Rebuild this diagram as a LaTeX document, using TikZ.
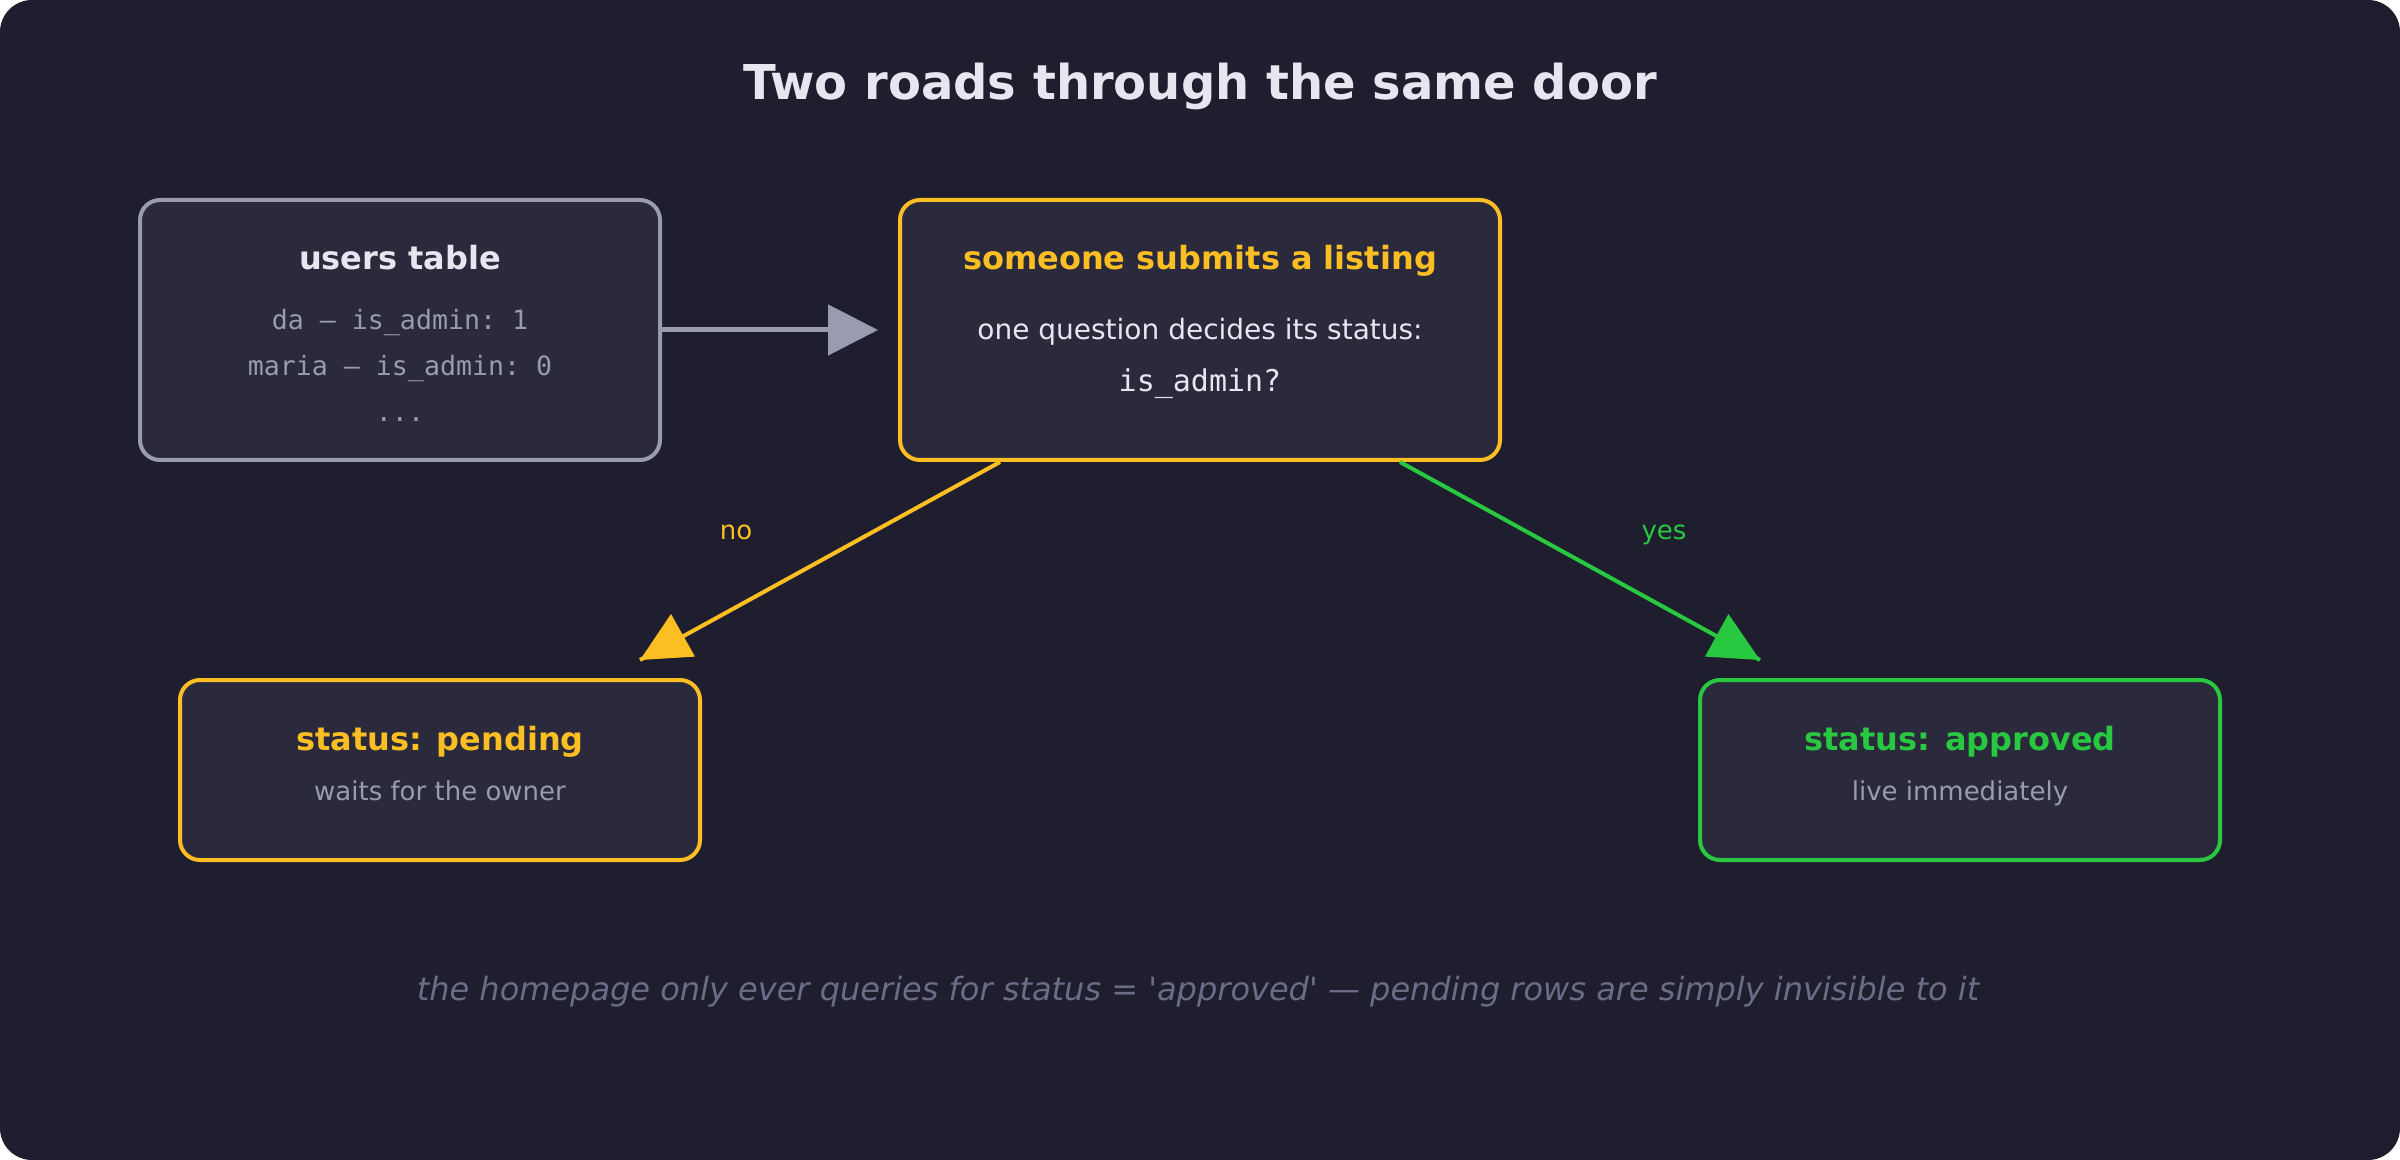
\documentclass[tikz,border=0pt]{standalone}
\usepackage{fontspec}
\setmainfont{DejaVu Sans}
\setmonofont{DejaVu Sans Mono}
\usetikzlibrary{arrows.meta}

\definecolor{bgdark}{HTML}{1E1E2E}
\definecolor{cardfill}{HTML}{2A2A3C}
\definecolor{mutedgray}{HTML}{9A9AB0}
\definecolor{softwhite}{HTML}{E6E6F0}
\definecolor{amber}{HTML}{FBBF24}
\definecolor{okgreen}{HTML}{28C840}
\definecolor{notegray}{HTML}{6C6C88}

\begin{document}
\begin{tikzpicture}[x=1pt,y=-1pt,
		card/.style={draw, line width=2pt, fill=cardfill, rounded corners=10pt, inner sep=0pt},
		headtxt/.style={font=\fontsize{16}{19}\selectfont\bfseries, anchor=base, inner sep=0pt},
		bodytxt/.style={font=\fontsize{14}{17}\selectfont, anchor=base, inner sep=0pt},
		codetxt/.style={font=\fontsize{13.3}{16}\selectfont\ttfamily, anchor=base, inner sep=0pt},
		subtxt/.style={font=\fontsize{13}{15}\selectfont, text=mutedgray, anchor=base, inner sep=0pt}]
			\useasboundingbox (0,0) rectangle (1200,580);
			\fill[white] (0,0) rectangle (1200,580);
			\fill[bgdark, rounded corners=16pt] (0,0) rectangle (1200,580);

			% title
			\node[font=\fontsize{24}{28}\selectfont\bfseries, text=softwhite, anchor=base, inner sep=0pt] (title) at (600,50) {Two roads through the same door};

			% boxes
			\node[card, draw=mutedgray, minimum width=260pt, minimum height=130pt] (users) at (200,165) {};
			\node[card, draw=amber, minimum width=300pt, minimum height=130pt] (ask) at (600,165) {};
			\node[card, draw=amber, minimum width=260pt, minimum height=90pt] (pending) at (220,385) {};
			\node[card, draw=okgreen, minimum width=260pt, minimum height=90pt] (approved) at (980,385) {};

			% box texts
			\node[headtxt, text=softwhite] (usersHead) at (200,135) {users table};
			\node[codetxt, text=mutedgray] (rowDa) at (200,165) {da — is\_admin: 1};
			\node[codetxt, text=mutedgray] (rowMaria) at (200,188) {maria — is\_admin: 0};
			\node[codetxt, text=mutedgray] (rowMore) at (200,211) {...};

			\node[headtxt, text=amber] (askHead) at (600,135) {someone submits a listing};
			\node[bodytxt, text=softwhite] (askBody) at (600,170) {one question decides its status:};
			\node[codetxt, text=softwhite, font=\fontsize{15}{18}\selectfont\ttfamily] (askCode) at (600,196) {is\_admin?};

			\node[headtxt, text=amber] (pendingHead) at (220,375) {status: pending};
			\node[subtxt] (pendingSub) at (220,400) {waits for the owner};
			\node[headtxt, text=okgreen] (approvedHead) at (980,375) {status: approved};
			\node[subtxt] (approvedSub) at (980,400) {live immediately};

			% arrows
			\draw[mutedgray, line width=2.5pt, -{Triangle[length=25pt,width=25pt]}, shorten >=10pt] (users) -- (ask);

			\coordinate (noTip) at (320,330);
			\coordinate (yesTip) at (880,330);
			\draw[amber, line width=2pt] ([xshift=-100pt]ask.south) -- (noTip);
			\draw[okgreen, line width=2pt] ([xshift=100pt]ask.south) -- (yesTip);
			\fill[amber] (noTip) -- ++(15.5,-23) -- ++(12,21.3) -- cycle;
			\fill[okgreen] (yesTip) -- ++(-15.8,-23) -- ++(-11.7,21.3) -- cycle;

			% branch labels
			\node[font=\fontsize{13}{16}\selectfont, text=amber, anchor=base, inner sep=0pt] (noLbl) at (368,270) {no};
			\node[font=\fontsize{13}{16}\selectfont, text=okgreen, anchor=base, inner sep=0pt] (yesLbl) at (832,270) {yes};

			% note
			\node[font=\fontsize{16}{19}\selectfont\itshape, text=notegray, anchor=base, inner sep=0pt] (note) at (599,500) {the homepage only ever queries for status = \textquotesingle approved\textquotesingle\ — pending rows are simply invisible to it};

		\end{tikzpicture}
\end{document}
